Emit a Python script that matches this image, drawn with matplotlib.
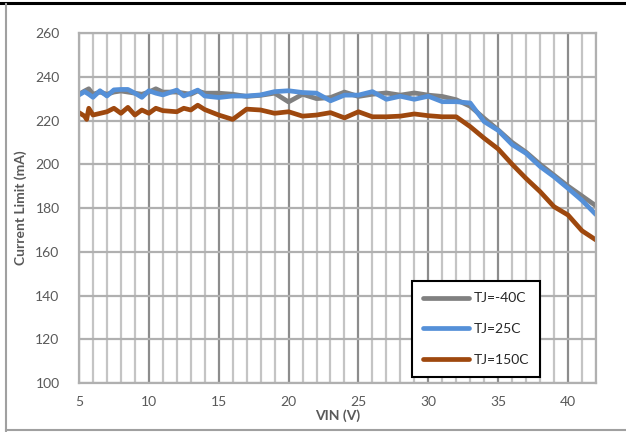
import matplotlib.pyplot as plt
from matplotlib.lines import Line2D

# TJ=-40C
vin_cold = [5, 5.4, 5.7, 6, 6.5, 7, 7.5, 8, 8.5, 9, 9.5, 10, 10.5, 11, 12, 12.5, 13, 13.5, 14,
            15, 16, 17, 18, 19, 20, 21, 22, 23, 24, 25, 26, 27, 28, 29, 30, 31, 32, 33, 34,
            35, 36, 37, 38, 39, 40, 41, 42]
ilim_cold = [232, 233.5, 234.5, 232, 233, 232, 233, 233.5, 233, 232.5, 232, 233, 234.5, 233,
             233, 232.5, 232, 233.5, 232.5, 232.5, 232, 231, 231.5, 232.5, 228.5, 232, 230,
             230.5, 233, 231, 232, 232.6, 231.6, 232.6, 231.6, 231, 229.5, 226.5, 221, 215.7,
             210, 205.5, 200, 195, 190, 185.5, 181]

# TJ=25C
vin_room = [5, 5.4, 5.7, 6, 6.5, 7, 7.5, 8, 8.5, 9, 9.5, 10, 10.5, 11, 12, 12.5, 13, 13.5, 14,
            15, 16, 17, 18, 19, 20, 21, 22, 23, 24, 25, 26, 27, 28, 29, 30, 31, 32, 33, 34,
            35, 36, 37, 38, 39, 40, 41, 42]
ilim_room = [231.7, 233.2, 232, 230.6, 233.6, 231.2, 234, 234.2, 234.2, 232.5, 230.6, 233.6,
             232.5, 231.7, 233.9, 231.2, 232.5, 233.9, 231.2, 230.5, 231.2, 231.2, 231.7,
             233.2, 233.6, 232.8, 232.5, 229, 231.6, 231.6, 233.2, 229.7, 231.1, 229.7, 231.1,
             228.6, 228.6, 228, 219.5, 215.5, 209, 205, 199, 194.3, 189, 183.5, 177]

# TJ=150C
vin_hot = [5, 5.4, 5.55, 5.7, 6, 7, 7.5, 8, 8.5, 9, 9.5, 10, 10.5, 11, 12, 12.5, 13, 13.5, 14,
           15, 16, 17, 18, 19, 20, 21, 22, 23, 24, 25, 26, 27, 28, 29, 30, 31, 32, 33, 34,
           35, 36, 37, 38, 39, 40, 41, 42]
ilim_hot = [223.6, 222, 220.5, 225.6, 222.5, 224, 225.6, 223.3, 226, 222.5, 224.8, 223.3, 225.6,
            224.5, 224, 225.6, 224.8, 227, 225, 222.5, 220.5, 225.2, 224.8, 223.3, 224, 222,
            222.5, 223.6, 221.2, 224, 221.7, 221.7, 222, 223, 222.2, 221.7, 221.7, 217.2,
            211.9, 207, 200, 193.5, 187.5, 180.6, 176.8, 169.6, 165.4]

plt.rcParams['font.family'] = ['Lato', 'DejaVu Sans']

fig = plt.figure(figsize=(6.26, 4.32), dpi=100)
ax = fig.add_axes([0.1262, 0.1134, 0.8258, 0.8102])

ax.plot(vin_cold, ilim_cold, color='#808080', lw=3.4, label='TJ=-40C', solid_capstyle='round')
ax.plot(vin_room, ilim_room, color='#5590d8', lw=3.4, label='TJ=25C', solid_capstyle='round')
ax.plot(vin_hot, ilim_hot, color='#9e480e', lw=3.4, label='TJ=150C', solid_capstyle='round')

ax.set_xlim(5, 42)
ax.set_ylim(100, 260)
ax.set_xticks(range(5, 41, 5))
ax.set_xticks(range(5, 43), minor=True)
ax.set_yticks(range(100, 261, 20))
ax.grid(which='minor', axis='x', color='#c4c4c4', lw=1.6)
ax.grid(which='major', axis='x', color='#8c8c8c', lw=1.6)
ax.grid(which='major', axis='y', color='#b0b0b0', lw=1.6)
ax.set_axisbelow(True)
for s in ax.spines.values():
    s.set_color('#b0b0b0')
    s.set_linewidth(1.6)
ax.tick_params(which='both', length=0, labelsize=10, colors='#595959', pad=9)
ax.tick_params(axis='y', pad=14)

ax.set_xlabel('VIN (V)', fontsize=10, fontweight='bold', color='#595959', labelpad=1)
ax.set_ylabel('Current Limit (mA)', fontsize=10, fontweight='bold', color='#595959', labelpad=6)

leg = ax.legend(loc='lower right', bbox_to_anchor=(0.892, 0.017), borderaxespad=0,
                fontsize=10, handlelength=3.3, labelspacing=1.35, borderpad=0.8,
                handletextpad=0.35, fancybox=False, framealpha=1, edgecolor='black',
                labelcolor='#262626')
leg.get_frame().set_linewidth(1.5)

# outer chart border
fig.add_artist(Line2D([0.0, 1.0], [0.994, 0.994], color='black', lw=2.2, transform=fig.transFigure))
fig.add_artist(Line2D([0.0096, 0.0096], [0.0, 0.99], color='#a0a0a0', lw=1.5, transform=fig.transFigure))
fig.add_artist(Line2D([0.0096, 1.0], [0.005, 0.005], color='#a0a0a0', lw=1.5, transform=fig.transFigure))

fig.savefig('out.png', dpi=100)
